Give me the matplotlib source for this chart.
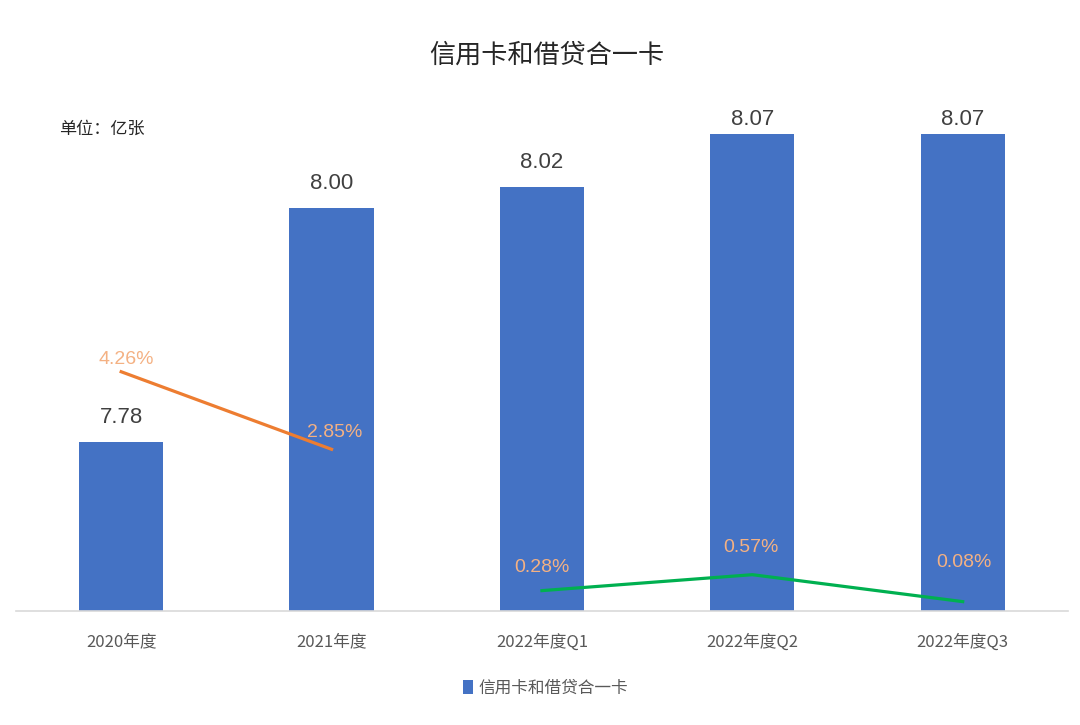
import matplotlib
matplotlib.use('Agg')
from matplotlib import pyplot as plt
import numpy as np

plt.rcParams['font.family'] = ['Noto Sans CJK SC', 'DejaVu Sans']

# data
categories = ['2020年度', '2021年度', '2022年度Q1', '2022年度Q2', '2022年度Q3']
cards = [7.78, 8.00, 8.02, 8.07, 8.07]
growth_annual_idx = [0, 1]
growth_annual = [4.26, 2.85]
growth_q_idx = [2, 3, 4]
growth_q = [0.28, 0.57, 0.08]
series_name = '信用卡和借贷合一卡'

bar_color = '#4472C4'
orange = '#ED7D31'
green = '#00B050'
pct_color = '#F4B183'
text_color = '#404040'
num_font = ['Liberation Sans', 'DejaVu Sans']

fig = plt.figure(figsize=(10.8, 7.25), dpi=100)
ax = fig.add_axes([0.0148, 0.1572, 0.974, 0.7048])
x = np.arange(len(categories))
bars = ax.bar(x, cards, width=0.4, color=bar_color, zorder=2)
ax.set_xlim(-0.5, len(categories) - 0.5)
ax.set_ylim(7.621, 8.102)
for s in ['top', 'right', 'left']:
    ax.spines[s].set_visible(False)
ax.spines['bottom'].set_color('#D9D9D9')
ax.spines['bottom'].set_linewidth(1.2)
ax.set_yticks([])
ax.set_xticks(x)
ax.set_xticklabels(categories, fontsize=12, color='#595959')
ax.tick_params(axis='x', length=0, pad=16)

# value labels (the top ones get pushed down by the plot area, like excel)
lab_cap = 8.084
for xi, v in zip(x, cards):
    ly = min(v + 0.0235, lab_cap)
    ax.text(xi, ly, '%.2f' % v, ha='center', va='center', fontsize=16,
            color=text_color, family=num_font)

# growth rate lines on secondary axis
ax2 = ax.twinx()
ax2.set_ylim(-0.0909, 9.2)
ax2.axis('off')
ax2.plot(growth_annual_idx, growth_annual, color=orange, lw=2.3, zorder=3)
ax2.plot(growth_q_idx, growth_q, color=green, lw=2.3, zorder=3)

pct_offsets = [(4, 9), (2, 12), (0, 16.5), (-1, 19.5), (1, 28)]
pct_x = growth_annual_idx + growth_q_idx
pct_v = growth_annual + growth_q
for xi, v, off in zip(pct_x, pct_v, pct_offsets):
    ax2.annotate('%.2f%%' % v, (xi, v), xytext=off, textcoords='offset points',
                 ha='center', va='center', fontsize=14, color=pct_color,
                 family=num_font)

fig.text(0.5065, 0.924, series_name, ha='center', va='center', fontsize=18.8, color='#262626')
fig.text(0.055, 0.823, '单位：亿张', ha='left', va='center', fontsize=12.3, color='#262626')

# legend
fig.legend([bars], [series_name], loc='center', bbox_to_anchor=(0.505, 0.051),
           frameon=False, fontsize=12, handlelength=0.6, handleheight=0.9,
           handletextpad=0.3, labelcolor='#595959')

fig.savefig('out.png', dpi=100)
